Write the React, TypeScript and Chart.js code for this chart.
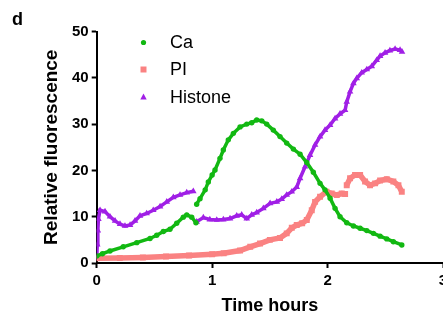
import React, { useEffect, useRef } from 'react';
import { Chart, registerables } from 'chart.js';

Chart.register(...registerables);

// ---- data (time in hours, relative fluorescence) ----
const caTime = [0, 0.05, 0.115, 0.23, 0.347, 0.462, 0.52, 0.577, 0.635, 0.693, 0.75, 0.78, 0.823, 0.86,
  0.863,
  0.866, 0.895, 0.94, 0.967, 1.0, 1.025, 1.068, 1.097, 1.14, 1.184, 1.242, 1.3, 1.343, 1.386, 1.43, 1.473,
  1.53, 1.588, 1.646, 1.704, 1.762, 1.82, 1.877, 1.935, 1.978, 2.022, 2.065, 2.108, 2.166, 2.224, 2.282,
  2.34, 2.397, 2.455, 2.513, 2.57, 2.643];
const caValues = [1.5, 2.0, 2.6, 3.5, 4.4, 5.3, 6.0, 6.8, 7.3, 8.6, 9.9, 10.4, 9.9, 8.7,
  null,
  12.7, 13.9, 15.8, 17.5, 19.0, 20.1, 22.6, 24.4, 26.6, 28.0, 29.4, 30.0, 30.3, 30.9, 30.7, 30.0,
  28.7, 27.3, 25.9, 24.6, 23.5, 21.7, 19.6, 17.2, 15.8, 14.0, 11.8, 10.0, 8.7, 8.0, 7.5,
  7.0, 6.4, 5.8, 5.2, 4.6, 3.9];

const piTime = [0, 0.2, 0.4, 0.6, 0.8, 1.0, 1.1, 1.242, 1.33, 1.415, 1.5, 1.588, 1.646, 1.69, 1.733, 1.78,
  1.82, 1.863, 1.892, 1.935, 1.99, 2.036, 2.08, 2.123, 2.152,
  2.159,
  2.166, 2.195, 2.238, 2.282, 2.325, 2.368, 2.412, 2.455, 2.513, 2.57, 2.614, 2.643];
const piValues = [1.0, 1.1, 1.2, 1.4, 1.6, 1.9, 2.1, 2.7, 3.5, 4.2, 5.0, 5.4, 6.4, 7.6, 8.2, 8.6,
  9.3, 11.4, 13.2, 14.3, 15.4, 15.0, 14.7, 15.0, 14.9,
  null,
  16.8, 18.3, 19.0, 19.0, 17.6, 16.8, 17.2, 17.8, 18.1, 17.6, 16.8, 15.4];

const histoneTime = [0, 0.005, 0.01, 0.015, 0.029, 0.072, 0.115, 0.159, 0.202, 0.245, 0.289, 0.332, 0.375,
  0.433, 0.49, 0.549, 0.607, 0.664, 0.722, 0.78, 0.837,
  0.85,
  0.866, 0.924, 0.98, 1.04, 1.097, 1.155, 1.213, 1.256, 1.3, 1.343, 1.386, 1.444, 1.502, 1.56, 1.603,
  1.646, 1.69, 1.733, 1.762, 1.805, 1.848, 1.892, 1.935, 1.978, 2.022, 2.065, 2.108, 2.152, 2.166, 2.195,
  2.224, 2.253, 2.296, 2.34, 2.383, 2.426, 2.455, 2.498, 2.54, 2.585, 2.628, 2.645];
const histoneValues = [1.0, 4.0, 7.0, 9.5, 11.4, 11.1, 10.0, 9.1, 8.4, 8.0, 8.2, 9.1, 10.2,
  10.7, 11.4, 12.2, 13.2, 14.2, 14.7, 15.2, 15.5,
  null,
  8.9, 9.8, 9.4, 9.3, 9.4, 9.6, 10.2, 10.4, 9.6, 10.4, 10.9, 11.8, 12.9, 13.2, 13.8,
  14.7, 15.4, 16.4, 18.3, 20.8, 23.3, 25.5, 27.3, 28.7, 29.8, 31.2, 32.2, 33.0, 34.8, 37.0,
  38.8, 39.9, 41.1, 41.8, 42.5, 43.8, 44.7, 45.4, 45.9, 46.2, 46.0, 45.6];

const seriesLabels = ['Ca', 'PI', 'Histone'];
const xTicks = [0, 1, 2, 3];
const yTicks = [0, 10, 20, 30, 40, 50];

const GREEN = '#12b812';
const PINK = '#fa8282';
const PURPLE = '#a01fe6';
const FONT = "'Liberation Sans', Arial, Helvetica, sans-serif";

function pts(t: number[], v: (number | null)[]) {
  return t.map((x, i) => ({ x, y: v[i] }));
}

function drawMarker(ctx: CanvasRenderingContext2D, style: string, x: number, y: number, color: string) {
  ctx.save();
  ctx.fillStyle = color;
  ctx.beginPath();
  if (style === 'circle') {
    ctx.arc(x, y, 2.6, 0, Math.PI * 2);
  } else if (style === 'rect') {
    ctx.rect(x - 3, y - 3, 6, 6);
  } else {
    ctx.moveTo(x, y - 3.5);
    ctx.lineTo(x + 3.2, y + 2.5);
    ctx.lineTo(x - 3.2, y + 2.5);
    ctx.closePath();
  }
  ctx.fill();
  ctx.restore();
}

const overlayPlugin = {
  id: 'overlayLegend',
  afterDraw(chart: any) {
    const ctx = chart.ctx as CanvasRenderingContext2D;
    const styles = ['circle', 'rect', 'triangle'];
    const colors = [GREEN, PINK, PURPLE];
    const rowsY = [42.5, 69.5, 97];
    ctx.save();
    seriesLabels.forEach((lab, i) => {
      drawMarker(ctx, styles[i], 143.5, rowsY[i], colors[i]);
      ctx.fillStyle = '#000';
      ctx.font = `18px ${FONT}`;
      ctx.textBaseline = 'middle';
      ctx.textAlign = 'left';
      ctx.fillText(lab, 170, rowsY[i] + 1);
    });
    ctx.font = `bold 18px ${FONT}`;
    ctx.textBaseline = 'alphabetic';
    ctx.fillText('d', 12, 25);
    ctx.restore();
  },
};

export default function App() {
  const ref = useRef<HTMLCanvasElement | null>(null);

  useEffect(() => {
    if (!ref.current) return;
    const tickFont = { family: FONT, size: 15, weight: 'bold' as const };
    const chart = new Chart(ref.current, {
      type: 'line',
      data: {
        datasets: [
          {
            label: seriesLabels[0],
            data: pts(caTime, caValues),
            borderColor: GREEN,
            backgroundColor: GREEN,
            pointStyle: 'circle',
            pointRadius: 2.7,
            pointBorderWidth: 0,
            borderWidth: 3.5,
            spanGaps: false,
          },
          {
            label: seriesLabels[1],
            data: pts(piTime, piValues),
            borderColor: PINK,
            backgroundColor: PINK,
            pointStyle: 'rect',
            pointRadius: 4.2,
            pointBorderWidth: 0,
            borderWidth: 5.5,
            spanGaps: false,
          },
          {
            label: seriesLabels[2],
            data: pts(histoneTime, histoneValues),
            borderColor: PURPLE,
            backgroundColor: PURPLE,
            pointStyle: 'triangle',
            pointRadius: 3.8,
            pointBorderWidth: 0,
            borderWidth: 3.5,
            spanGaps: false,
          },
        ],
      },
      options: {
        responsive: false,
        animation: false,
        devicePixelRatio: 1,
        layout: { padding: { top: 31.5, right: 10, bottom: 0, left: 0 } },
        plugins: { legend: { display: false }, tooltip: { enabled: false } },
        scales: {
          x: {
            type: 'linear',
            min: 0,
            max: 3,
            afterBuildTicks: (s: any) => { s.ticks = xTicks.map((v) => ({ value: v })); },
            afterFit: (s: any) => { s.height = 58; },
            ticks: { font: tickFont, color: '#000', padding: 4 },
            grid: { drawOnChartArea: false, drawTicks: true, tickLength: 5, tickWidth: 2, tickColor: '#000' },
            border: { color: '#000', width: 2 },
            title: {
              display: true,
              text: 'Time hours',
              color: '#000',
              font: { family: FONT, size: 18, weight: 'bold' },
              padding: { top: 0, bottom: 4 },
            },
          },
          y: {
            type: 'linear',
            min: 0,
            max: 50,
            afterBuildTicks: (s: any) => { s.ticks = yTicks.map((v) => ({ value: v })); },
            afterFit: (s: any) => { s.width = 96.7; },
            ticks: { font: tickFont, color: '#000', padding: 3 },
            grid: { drawOnChartArea: false, drawTicks: true, tickLength: 5, tickWidth: 2, tickColor: '#000' },
            border: { color: '#000', width: 2 },
            title: {
              display: true,
              text: 'Relative fluorescence',
              color: '#000',
              font: { family: FONT, size: 19, weight: 'bold' },
              padding: { top: 40, bottom: 0 },
            },
          },
        },
      },
      plugins: [overlayPlugin],
    });
    return () => chart.destroy();
  }, []);

  return (
    <div style={{ position: 'absolute', left: 0, top: 0, width: 443, height: 321, overflow: 'hidden', background: '#fff' }}>
      <canvas ref={ref} width={453} height={321} style={{ display: 'block', width: 453, height: 321 }} />
    </div>
  );
}
